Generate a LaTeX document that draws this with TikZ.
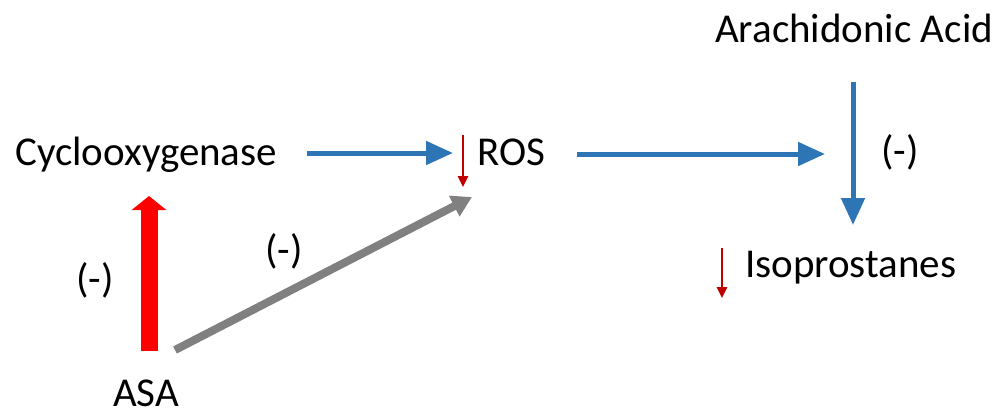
\documentclass[tikz,border=0pt]{standalone}
\usepackage{fontspec}
\setmainfont{Carlito}
\usetikzlibrary{arrows.meta}
\definecolor{arrblue}{RGB}{46,117,182}
\definecolor{darkred}{RGB}{192,0,0}
\definecolor{arrgray}{RGB}{128,128,128}
\begin{document}
\begin{tikzpicture}[x=1pt,y=-1pt,
  lbl/.style={inner sep=0pt,anchor=base west,font=\fontsize{41}{49}\selectfont},
  sign/.style={inner sep=0pt,anchor=center,font=\fontsize{41}{49}\selectfont},
  bluearr/.style={draw=arrblue,line width=5pt,-{Triangle[length=27pt,width=23pt]},fill=arrblue},
  smallred/.style={draw=darkred,line width=2.5pt,-{Triangle[length=11pt,width=10pt]},fill=darkred},
  bigred/.style={draw=red,line width=17pt,-{Triangle[length=14pt,width=34pt]},fill=red},
  grayarr/.style={draw=arrgray,line width=8pt,-{Triangle[length=20pt,width=22pt]},fill=arrgray}]
\useasboundingbox (0,0) rectangle (1003,412);
% labels
\node[lbl] (cox) at (15,165) {Cyclooxygenase};
\node[lbl] (ros) at (477,165) {ROS};
\node[lbl] (aa) at (715,42) {Arachidonic Acid};
\node[lbl] (iso) at (745,277) {Isoprostanes};
\node[lbl] (asa) at (113,406) {ASA};
\node[sign] (s1) at (95,280) {(-)};
\node[sign] (s2) at (284,251) {(-)};
\node[sign] (s3) at (900,152) {(-)};
% arrow end points
\coordinate (c1s) at (307,153);
\coordinate (c1e) at (453,153);
\coordinate (c2s) at (577,154);
\coordinate (c2e) at (825,154);
\coordinate (c3s) at (853,82);
\coordinate (c3e) at (853,225);
\coordinate (r1s) at (463,135);
\coordinate (r1e) at (463,187);
\coordinate (r2s) at (722,248);
\coordinate (r2e) at (722,298);
\coordinate (bs) at (149,351);
\coordinate (be) at (149,196);
\coordinate (gs) at (175,350);
\coordinate (ge) at (472,197);
% arrows
\draw[bluearr] (c1s) -- (c1e);
\draw[bluearr] (c2s) -- (c2e);
\draw[bluearr] (c3s) -- (c3e);
\draw[smallred] (r1s) -- (r1e);
\draw[smallred] (r2s) -- (r2e);
\draw[bigred] (bs) -- (be);
\draw[grayarr] (gs) -- (ge);
\end{tikzpicture}
\end{document}
